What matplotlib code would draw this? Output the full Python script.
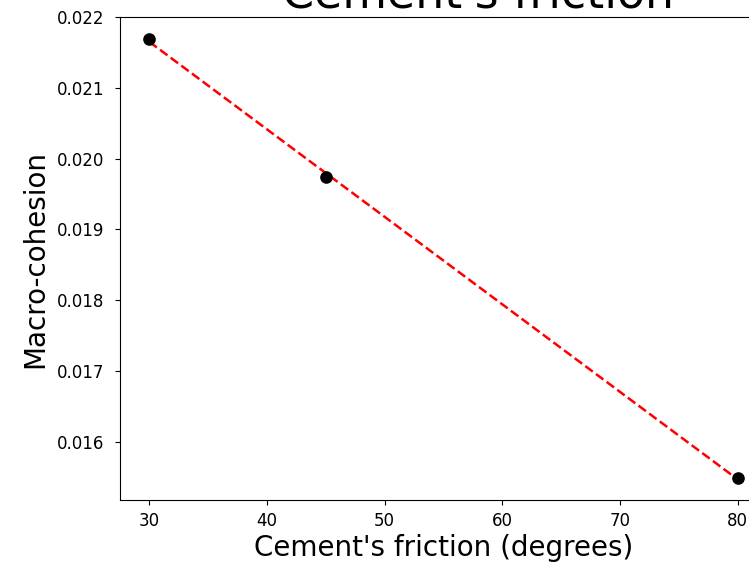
import numpy as np
import matplotlib.pyplot as plt

# cement friction angle vs. resulting macro-cohesion
friction_deg = [30, 45, 80]
macro_cohesion = [0.02169, 0.019736, 0.015491]

fig = plt.figure(figsize=(7.49, 5.62), dpi=100)
ax = fig.add_axes([120 / 749, 62 / 562, 647 / 749, 483 / 562])

ax.scatter(friction_deg, macro_cohesion, s=65, color='black', zorder=3)

# linear fit through the points
coef = np.polyfit(friction_deg, macro_cohesion, 1)
xfit = np.array([min(friction_deg), max(friction_deg)])
ax.plot(xfit, np.polyval(coef, xfit), 'r--', lw=1.8, zorder=2)

ax.set_xlim(27.5, 82.5)
ax.set_ylim(0.015181, 0.022)
ax.set_yticks([0.016, 0.017, 0.018, 0.019, 0.020, 0.021, 0.022])
ax.tick_params(labelsize=12)
ax.tick_params(axis='y', pad=7.5)
ax.tick_params(axis='x', pad=5)
ax.set_xlabel("Cement's friction (degrees)", fontsize=20, labelpad=3)
ax.set_ylabel("Macro-cohesion", fontsize=20, labelpad=6)

fig.text(478 / 749, 1 - 7 / 562, "Cement's friction", fontsize=33,
         ha='center', va='baseline')

fig.savefig('out.png', dpi=100)
plt.close(fig)
